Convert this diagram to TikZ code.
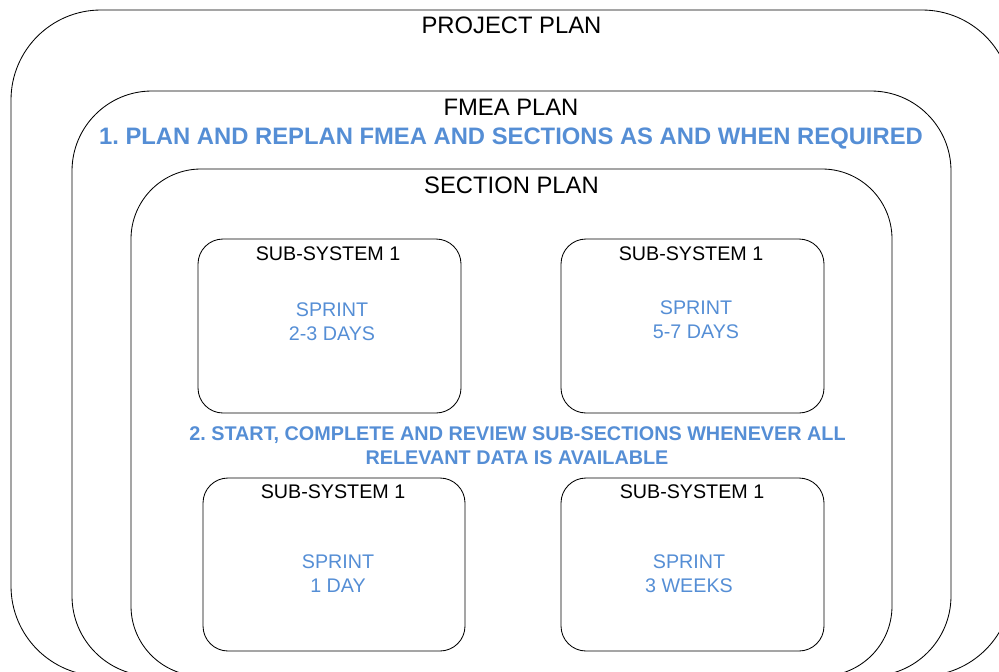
\documentclass[tikz,border=0pt]{standalone}
\usepackage{fontspec}
\setmainfont{Liberation Sans}
\frenchspacing
\definecolor{planblue}{RGB}{85,142,213}
\begin{document}
\begin{tikzpicture}[x=1pt,y=-1pt,
  frame/.style={draw=black, line width=0.85pt, rectangle, inner sep=0pt},
  bigtext/.style={anchor=base, inner sep=0pt, font=\fontsize{23.8}{28}\selectfont},
  goaltext/.style={anchor=base, inner sep=0pt, text=planblue, font=\bfseries\fontsize{23.8}{28}\selectfont},
  steptext/.style={anchor=base, inner sep=0pt, text=planblue, font=\bfseries\fontsize{19.8}{23}\selectfont},
  boxtitle/.style={anchor=base, inner sep=0pt, font=\fontsize{19.7}{23}\selectfont},
  sprinttext/.style={anchor=base, inner sep=0pt, text=planblue, font=\fontsize{19.7}{23}\selectfont},
  subbox/.style={frame, rounded corners=25pt, minimum width=263pt, minimum height=174pt}]
\useasboundingbox (0,0) rectangle (999,672);
\clip (0,0) rectangle (999,672);

% nested planning levels
\node[frame, rounded corners=90pt, minimum width=1001pt, minimum height=666pt] (project) at (511.5,343) {};
\node[frame, rounded corners=80pt, minimum width=879pt, minimum height=585pt] (fmea) at (511.5,383.5) {};
\node[frame, rounded corners=70pt, minimum width=761pt, minimum height=507pt] (section) at (511.5,422.5) {};

% sub-system boxes
\node[subbox] (sub1) at (329.5,326) {};
\node[subbox] (sub2) at (692.5,326) {};
\node[subbox, minimum width=262pt, minimum height=173pt] (sub3) at (334,564.5) {};
\node[subbox, minimum height=173pt] (sub4) at (692.5,564.5) {};

% level titles
\node[bigtext] (projtitle) at (511.5,33.3) {PROJECT PLAN};
\node[bigtext] (fmeatitle) at (511,115) {FMEA PLAN};
\node[goaltext] (goal1) at (511,144) {1. PLAN AND REPLAN FMEA AND SECTIONS AS AND WHEN REQUIRED};
\node[bigtext] (sectitle) at (511.5,193) {SECTION PLAN};

% step two
\node[steptext] (goal2a) at (517.5,440.7) {2. START, COMPLETE AND REVIEW SUB-SECTIONS WHENEVER ALL};
\node[steptext] (goal2b) at (517,464) {RELEVANT DATA IS AVAILABLE};

% box contents
\node[boxtitle] (t1) at (328,260) {SUB-SYSTEM 1};
\node[sprinttext] (s1a) at (332,316.7) {SPRINT};
\node[sprinttext] (s1b) at (332,340) {2-3 DAYS};

\node[boxtitle] (t2) at (691,260) {SUB-SYSTEM 1};
\node[sprinttext] (s2a) at (696,314) {SPRINT};
\node[sprinttext] (s2b) at (696,338) {5-7 DAYS};

\node[boxtitle] (t3) at (333,498.3) {SUB-SYSTEM 1};
\node[sprinttext] (s3a) at (338,568) {SPRINT};
\node[sprinttext] (s3b) at (338,592) {1 DAY};

\node[boxtitle] (t4) at (692,498.3) {SUB-SYSTEM 1};
\node[sprinttext] (s4a) at (689,568) {SPRINT};
\node[sprinttext] (s4b) at (689,592) {3 WEEKS};
\end{tikzpicture}
\end{document}
